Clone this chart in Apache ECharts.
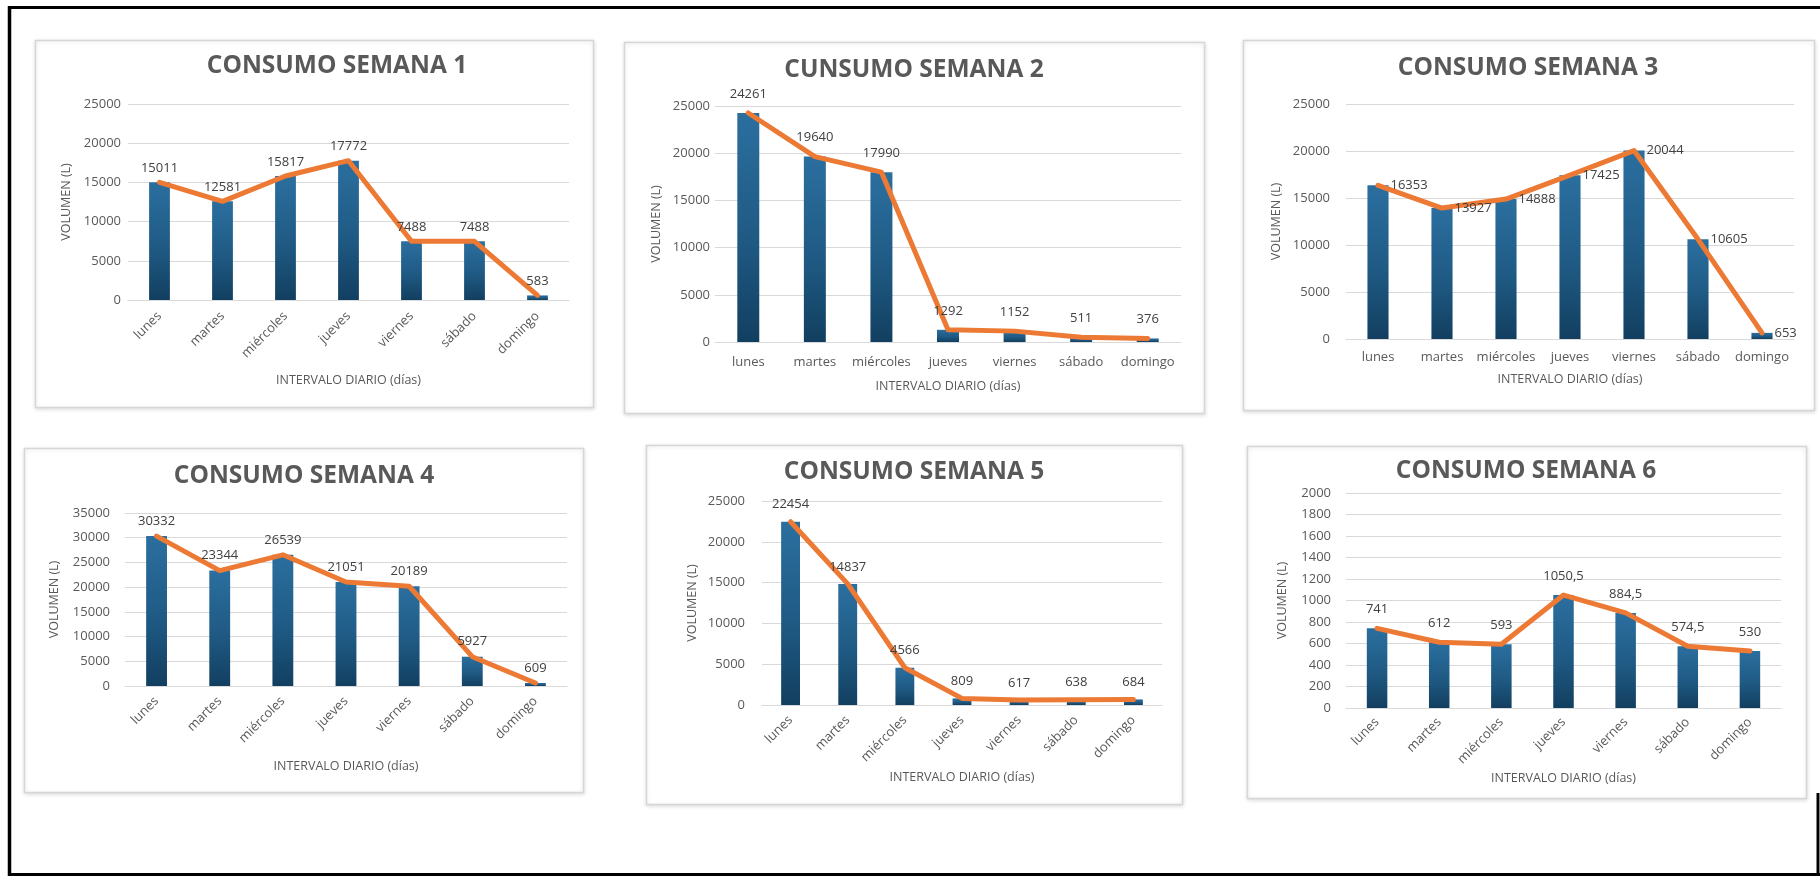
<!DOCTYPE html>
<html>
<head>
<meta charset="utf-8">
<title>Consumo semanal</title>
<script src="https://cdn.jsdelivr.net/npm/echarts@6/dist/echarts.min.js"></script>
<style>
  html, body { margin: 0; padding: 0; background: #ffffff; }
  #chart { width: 1820px; height: 876px; }
</style>
</head>
<body>
<div id="chart"></div>
<script>
// Días de la semana (eje de categorías)
const dias = ['lunes', 'martes', 'miércoles', 'jueves', 'viernes', 'sábado', 'domingo'];

// Volumen diario consumido (L) por semana
const semana1 = [15011, 12581, 15817, 17772, 7488, 7488, 583];
const semana2 = [24261, 19640, 17990, 1292, 1152, 511, 376];
const semana3 = [16353, 13927, 14888, 17425, 20044, 10605, 653];
const semana4 = [30332, 23344, 26539, 21051, 20189, 5927, 609];
const semana5 = [22454, 14837, 4566, 809, 617, 638, 684];
const semana6 = [741, 612, 593, 1050.5, 884.5, 574.5, 530];

// Títulos de cada gráfico
const titulos = ['CONSUMO SEMANA 1', 'CUNSUMO SEMANA 2', 'CONSUMO SEMANA 3',
                 'CONSUMO SEMANA 4', 'CONSUMO SEMANA 5', 'CONSUMO SEMANA 6'];

// Escala del eje Y de cada gráfico
const yMaximos = [25000, 25000, 25000, 35000, 25000, 2000];
const yPasos = [5000, 5000, 5000, 5000, 5000, 200];

const ejeX = 'INTERVALO DIARIO (días)';
const ejeY = 'VOLUMEN (L)';

const semanas = [semana1, semana2, semana3, semana4, semana5, semana6];

// Disposición de cada panel en la página
const paneles = [
  { box: [35, 40, 593, 407],    grid: [128, 104, 441, 196], title: [337, 68],  rot: 45, xGap: 74, yGap: 55, tickGap: 7,  catGap: 14, lblPos: 'top',   lblDist: 7 },
  { box: [624, 42, 1204, 413],  grid: [715, 106, 466, 236], title: [914, 72],  rot: 0,  xGap: 38, yGap: 52, tickGap: 5,  catGap: 14, lblPos: 'top',   lblDist: 12 },
  { box: [1243, 40, 1814, 410], grid: [1346, 104, 448, 235], title: [1528, 70], rot: 0,  xGap: 34, yGap: 63, tickGap: 16, catGap: 12, lblPos: 'right', lblDist: 12 },
  { box: [24, 448, 583, 792],   grid: [125, 513, 442, 173], title: [304, 478], rot: 45, xGap: 74, yGap: 64, tickGap: 15, catGap: 13, lblPos: 'top',   lblDist: 8 },
  { box: [646, 445, 1182, 804], grid: [762, 501, 400, 204], title: [914, 474], rot: 45, xGap: 66, yGap: 63, tickGap: 17, catGap: 13, lblPos: 'top',   lblDist: 10 },
  { box: [1247, 446, 1806, 798], grid: [1346, 493, 435, 215], title: [1526, 473], rot: 45, xGap: 64, yGap: 57, tickGap: 15, catGap: 12, lblPos: 'top',  lblDist: 12 }
];

const FONT = '"Open Sans", "Liberation Sans", sans-serif';
const GRIS = '#595959';

// Los valores decimales se escriben con coma
const fmt = v => String(v).replace('.', ',');

const barColor = new echarts.graphic.LinearGradient(0, 0, 0, 1, [
  { offset: 0, color: '#2b6f9f' },
  { offset: 0.55, color: '#1f5a84' },
  { offset: 1, color: '#123f60' }
]);

const option = {
  animation: false,
  backgroundColor: '#ffffff',
  title: [],
  grid: [],
  xAxis: [],
  yAxis: [],
  series: [],
  graphic: []
};

// Marco exterior
option.graphic.push(
  { type: 'line', shape: { x1: 9.5, y1: 6, x2: 9.5, y2: 876 }, style: { stroke: '#000', lineWidth: 3.5 }, z: 10 },
  { type: 'line', shape: { x1: 8, y1: 7.5, x2: 1820, y2: 7.5 }, style: { stroke: '#000', lineWidth: 3 }, z: 10 },
  { type: 'line', shape: { x1: 8, y1: 874.5, x2: 1820, y2: 874.5 }, style: { stroke: '#000', lineWidth: 3 }, z: 10 },
  { type: 'line', shape: { x1: 1818, y1: 793, x2: 1818, y2: 876 }, style: { stroke: '#000', lineWidth: 3 }, z: 10 }
);

paneles.forEach((p, i) => {
  const [bx1, by1, bx2, by2] = p.box;
  option.graphic.push({
    type: 'rect',
    shape: { x: bx1 + 0.5, y: by1 + 0.5, width: bx2 - bx1, height: by2 - by1 },
    style: { fill: '#ffffff', stroke: '#d6d6d6', lineWidth: 1.5,
             shadowBlur: 4, shadowColor: 'rgba(0,0,0,0.12)', shadowOffsetY: 1 },
    z: -10
  });

  option.title.push({
    text: titulos[i],
    left: p.title[0],
    top: p.title[1] - 14,
    textAlign: 'center',
    padding: 0,
    textStyle: { fontFamily: FONT, fontWeight: 'bold', fontSize: 24.5, color: GRIS }
  });

  const [gl, gt, gw, gh] = p.grid;
  option.grid.push({ left: gl, top: gt, width: gw, height: gh, containLabel: false });

  option.xAxis.push({
    type: 'category',
    gridIndex: i,
    data: dias,
    name: ejeX,
    nameLocation: 'middle',
    nameGap: p.xGap,
    nameTextStyle: { fontFamily: FONT, fontSize: 12.5, color: GRIS },
    axisLine: { lineStyle: { color: '#d9d9d9', width: 1 } },
    axisTick: { show: false },
    axisLabel: {
      interval: 0,
      rotate: p.rot,
      margin: p.catGap,
      fontFamily: FONT,
      fontSize: 13,
      color: GRIS
    }
  });

  option.yAxis.push({
    type: 'value',
    gridIndex: i,
    min: 0,
    max: yMaximos[i],
    interval: yPasos[i],
    name: ejeY,
    nameLocation: 'middle',
    nameGap: p.yGap,
    nameTextStyle: { fontFamily: FONT, fontSize: 12.5, color: GRIS },
    axisLine: { show: false },
    axisTick: { show: false },
    splitLine: { lineStyle: { color: '#d9d9d9', width: 1 } },
    axisLabel: {
      margin: p.tickGap,
      formatter: v => String(v),
      fontFamily: FONT,
      fontSize: 13,
      color: GRIS
    }
  });

  option.series.push({
    type: 'bar',
    xAxisIndex: i,
    yAxisIndex: i,
    data: semanas[i],
    barWidth: '33%',
    itemStyle: { color: barColor },
    z: 2
  });

  option.series.push({
    type: 'line',
    xAxisIndex: i,
    yAxisIndex: i,
    data: semanas[i],
    symbol: 'circle',
    symbolSize: 1,
    showSymbol: true,
    lineStyle: { color: '#ec7a34', width: 5, cap: 'round', join: 'round' },
    itemStyle: { color: '#ec7a34' },
    label: {
      show: true,
      position: p.lblPos,
      distance: p.lblDist,
      formatter: prm => fmt(prm.value),
      fontFamily: FONT,
      fontSize: 13,
      color: '#404040'
    },
    z: 3
  });
});

const chart = echarts.init(document.getElementById('chart'));
chart.setOption(option);
</script>
</body>
</html>
